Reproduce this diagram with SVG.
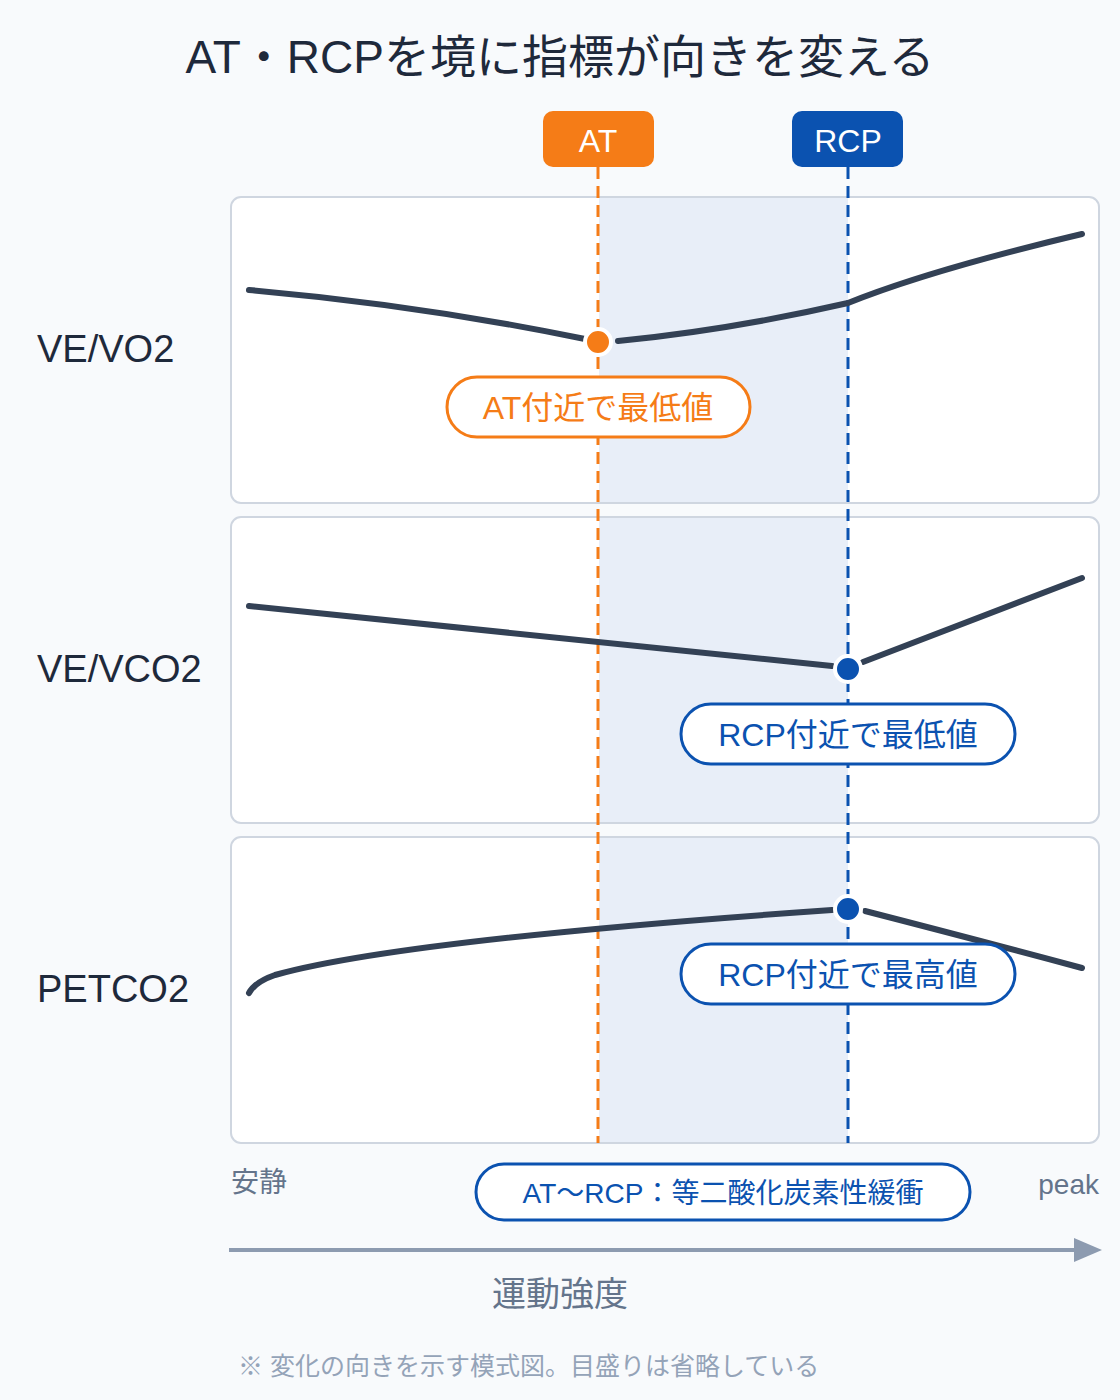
<svg xmlns="http://www.w3.org/2000/svg" width="1120" height="1400" viewBox="0 0 1120 1400">
<style>
text{font-family:"Liberation Sans","Noto Sans CJK JP",sans-serif}
.panel{fill:#fff;stroke:#cfd6e0;stroke-width:2}
.curve{fill:none;stroke:#334155;stroke-width:6;stroke-linecap:round;stroke-linejoin:round}
.row{font-size:38px;fill:#1e293b}
.pill{fill:#fff;stroke-width:3}
</style>
<rect width="1120" height="1400" fill="#f8fafc"/>
<text x="560" y="73" font-size="46" text-anchor="middle" fill="#1e293b">AT・RCPを境に指標が向きを変える</text>
<g id="panels">
<rect class="panel" x="231" y="197" width="868" height="306" rx="10"/>
<rect class="panel" x="231" y="517" width="868" height="306" rx="10"/>
<rect class="panel" x="231" y="837" width="868" height="306" rx="10"/>
<rect x="599" y="198" width="249" height="304" fill="#e8eef8"/>
<rect x="599" y="518" width="249" height="304" fill="#e8eef8"/>
<rect x="599" y="838" width="249" height="304" fill="#e8eef8"/>
</g>
<text class="row" x="37" y="362">VE/VO2</text>
<text class="row" x="37" y="682">VE/VCO2</text>
<text class="row" x="37" y="1002">PETCO2</text>
<g id="connectors">
<line x1="598" y1="167" x2="598" y2="1143" stroke="#f57c17" stroke-width="3" stroke-dasharray="12 7"/>
<line x1="848" y1="167" x2="848" y2="1143" stroke="#0b52b0" stroke-width="3" stroke-dasharray="12 7"/>
</g>
<g id="at-marker"><rect x="543" y="111" width="111" height="56" rx="10" fill="#f57c17"/><text x="598" y="152" font-size="32" fill="#fff" text-anchor="middle">AT</text></g>
<g id="rcp-marker"><rect x="792" y="111" width="111" height="56" rx="10" fill="#0b52b0"/><text x="848" y="152" font-size="32" fill="#fff" text-anchor="middle">RCP</text></g>
<g id="vevo2">
<path class="curve" d="M249 290 Q420 305 585 339"/>
<path class="curve" d="M618 341 Q730 330 848 303 Q930 270 1082 234"/>
<circle cx="598" cy="342" r="13" fill="#f57c17" stroke="#fff" stroke-width="4"/>
<rect class="pill" x="447" y="377" width="303" height="60" rx="30" stroke="#f57c17"/>
<text x="598" y="419" font-size="32" fill="#f57c17" text-anchor="middle">AT付近で最低値</text>
</g>
<g id="vevco2">
<path class="curve" d="M249 606 L832 666"/>
<path class="curve" d="M863 662 L1082 578"/>
<circle cx="848" cy="669" r="13" fill="#0b52b0" stroke="#fff" stroke-width="4"/>
<rect class="pill" x="681" y="704" width="334" height="60" rx="30" stroke="#0b52b0"/>
<text x="848" y="746" font-size="32" fill="#0b52b0" text-anchor="middle">RCP付近で最低値</text>
</g>
<g id="petco2">
<path class="curve" d="M249 993 Q255 982 275 975 Q400 940 832 910"/>
<path class="curve" d="M865 911 Q970 938 1082 968"/>
<circle cx="848" cy="909" r="13" fill="#0b52b0" stroke="#fff" stroke-width="4"/>
<rect class="pill" x="681" y="944" width="334" height="60" rx="30" stroke="#0b52b0"/>
<text x="848" y="986" font-size="32" fill="#0b52b0" text-anchor="middle">RCP付近で最高値</text>
</g>
<text x="231" y="1192" font-size="28" fill="#64748b">安静</text>
<text x="1099" y="1194" font-size="28" fill="#64748b" text-anchor="end">peak</text>
<g id="band-label">
<rect class="pill" x="476" y="1164" width="494" height="56" rx="28" stroke="#0b52b0"/>
<text x="723" y="1203" font-size="28" fill="#0b52b0" text-anchor="middle">AT〜RCP：等二酸化炭素性緩衝</text>
</g>
<line x1="229" y1="1250" x2="1080" y2="1250" stroke="#8d9bb0" stroke-width="4"/>
<polygon points="1074,1238 1102,1250 1074,1262" fill="#8d9bb0"/>
<text x="560" y="1306" font-size="34" fill="#64748b" text-anchor="middle">運動強度</text>
<text x="238" y="1375" font-size="25" fill="#94a3b8">※ 変化の向きを示す模式図。目盛りは省略している</text>
</svg>
